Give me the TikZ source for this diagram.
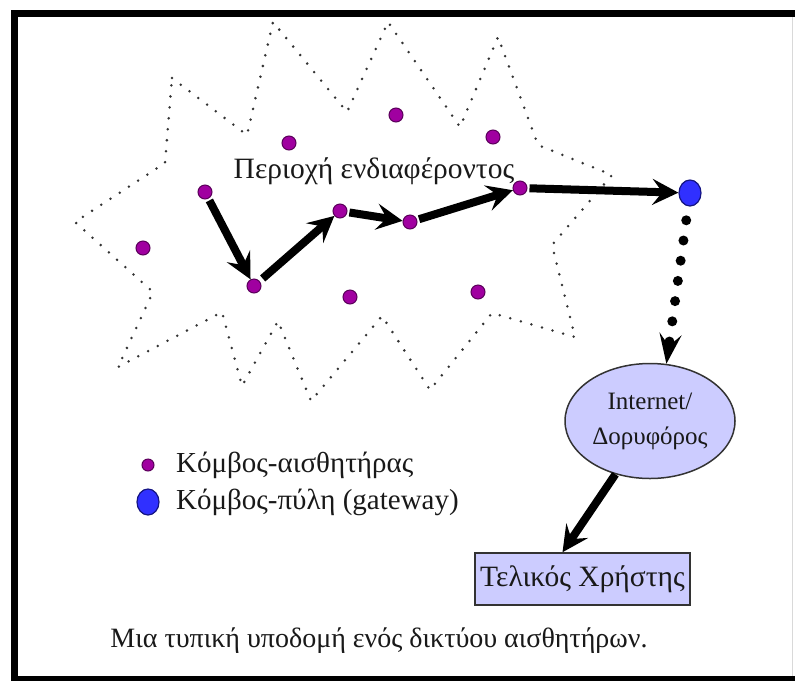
\documentclass[tikz,border=0pt]{standalone}
\usepackage{fontspec}
\setmainfont{Liberation Serif}
\usetikzlibrary{arrows.meta,shapes.geometric}

\definecolor{sensorfill}{RGB}{160,0,160}
\definecolor{sensorline}{RGB}{90,0,90}
\definecolor{gwfill}{RGB}{48,48,255}
\definecolor{gwline}{RGB}{20,20,130}
\definecolor{lavender}{RGB}{204,204,255}

\tikzset{
  sensor/.style={circle, fill=sensorfill, draw=sensorline, line width=1pt,
    minimum size=14pt, inner sep=0pt},
  gateway/.style={ellipse, fill=gwfill, draw=gwline, line width=1.2pt,
    minimum width=22pt, minimum height=26pt, inner sep=0pt},
  hop/.style={line width=8pt, -{Stealth[length=26pt,width=26pt,inset=10pt]}},
  region/.style={black!80, line width=2.8pt, line cap=round,
    dash pattern=on 0pt off 11pt},
  uplink/.style={line width=10pt, line cap=round, dash pattern=on 0pt off 20.4pt,
    -{Stealth[length=30pt,width=22pt,inset=12pt]}},
  frameline/.style={line width=7pt},
  label/.style={inner sep=0pt, text=black!90},
}

\begin{document}
\begin{tikzpicture}[x=1pt,y=-1pt]
\useasboundingbox (0,0) rectangle (795,681);
\fill[white] (0,0) rectangle (795,681);

% outer frame
\draw[frameline] (11,13.5) -- (795,13.5);
\draw[frameline] (14.7,10) -- (14.7,681);
\draw[line width=5pt] (11,678.5) -- (795,678.5);
\draw[black!15, line width=1pt] (792.5,17) -- (792.5,676);

% region of interest (dotted star outline)
\draw[region] (172,78) -- (247,135) -- (273,22) -- (347,112) -- (388,22)
  -- (460,127) -- (498,37) -- (538,145) -- (612,175) -- (552,245)
  -- (575,337) -- (492,313) -- (430,390) -- (382,316) -- (311,401)
  -- (278,321) -- (242,386) -- (222,312) -- (118,367) -- (153,292)
  -- (75,222) -- (165,163) -- cycle;

\node[label, font=\fontsize{29.5}{32}\selectfont] (roi) at (374,171)
  {Περιοχή ενδιαφέροντος};

% sensor nodes
\node[sensor] (s1) at (205,192) {};
\node[sensor] (s2) at (143,248) {};
\node[sensor] (s3) at (289,143) {};
\node[sensor] (s4) at (396,115) {};
\node[sensor] (s5) at (493,137) {};
\node[sensor] (s6) at (254,286) {};
\node[sensor] (s7) at (340,211) {};
\node[sensor] (s8) at (410,222) {};
\node[sensor] (s9) at (520,188) {};
\node[sensor] (s10) at (350,297) {};
\node[sensor] (s11) at (478,292) {};

% gateway
\node[gateway] (gw) at (690,193) {};

% multi-hop route
\draw[hop, shorten <=2pt] (s1) -- (s6);
\draw[hop, shorten <=4pt] (s6) -- (s7);
\draw[hop, shorten <=2pt] (s7) -- (s8);
\draw[hop, shorten <=2pt] (s8) -- (s9);
\draw[hop, shorten <=2pt] (s9) -- (gw);

% internet / satellite and end user
\node[ellipse, draw=black!80, line width=1.5pt, fill=lavender,
  minimum width=170pt, minimum height=115pt, inner sep=0pt,
  align=center, text=black!90, font=\fontsize{25}{35}\selectfont] (net) at (650,421)
  {Internet/\\Δορυφόρος};
\node[rectangle, draw=black!80, line width=1.5pt, fill=lavender,
  minimum width=215pt, minimum height=52pt, inner sep=0pt, text=black!90,
  font=\fontsize{29.5}{32}\selectfont] (user) at (582.5,579) {Τελικός Χρήστης};

\draw[uplink, shorten <=14pt] (gw) -- (net.74);
\draw[hop] (net.237) -- ([xshift=-20pt]user.north);

% legend
\node[sensor, minimum size=12pt] (ks) at (148,465) {};
\node[label, anchor=west, font=\fontsize{29}{32}\selectfont] (kst) at (176,465)
  {Κόμβος-αισθητήρας};
\node[gateway] (kg) at (148,502) {};
\node[label, anchor=west, font=\fontsize{29}{32}\selectfont] (kgt) at (176,502)
  {Κόμβος-πύλη (gateway)};

% caption
\node[label, font=\fontsize{28}{30}\selectfont] (cap) at (379,641)
  {Μια τυπική υποδομή ενός δικτύου αισθητήρων.};
\end{tikzpicture}
\end{document}
